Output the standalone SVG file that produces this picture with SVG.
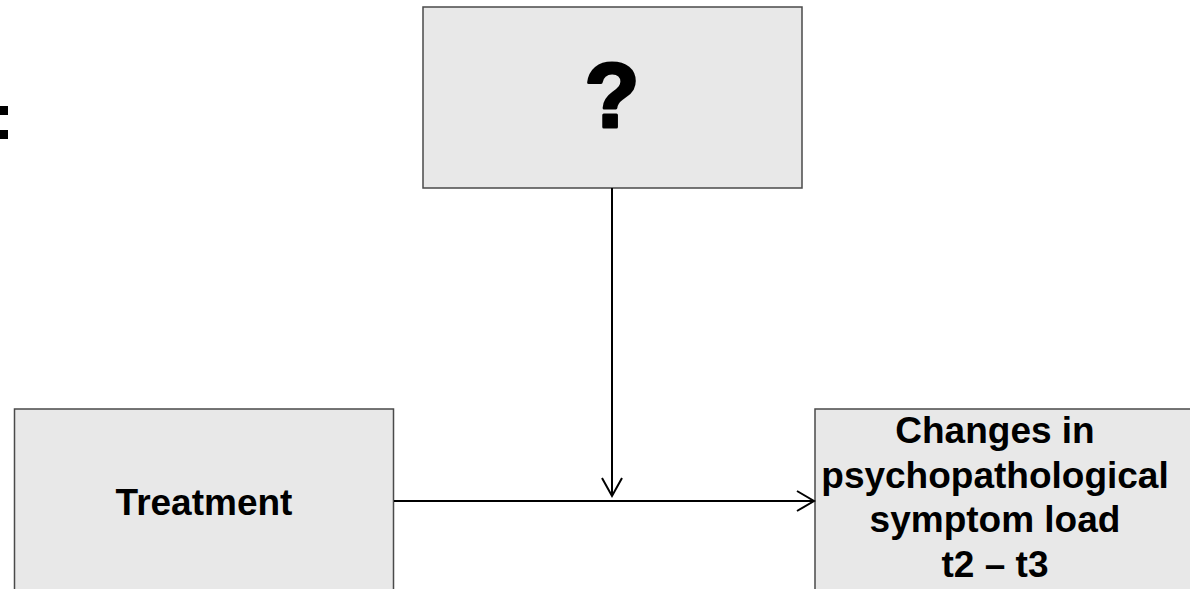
<svg xmlns="http://www.w3.org/2000/svg" width="1190" height="589" viewBox="0 0 1190 589">
<style>
.box{fill:#e8e8e8;stroke:#4a4a4a;stroke-width:1.5}
.lbl{font-family:"Liberation Sans",Arial,sans-serif;font-weight:bold;font-size:37px;fill:#000;text-anchor:middle}
.q{font-family:"Liberation Sans",Arial,sans-serif;font-weight:900;font-size:90px;fill:#000;stroke:#000;stroke-width:3;stroke-linejoin:round;text-anchor:middle}
.conn{stroke:#000;stroke-width:2;fill:none}
</style>
<rect x="0" y="0" width="1190" height="589" fill="#fff"/>
<g id="colon">
<rect x="0" y="106" width="8" height="9" fill="#000"/>
<rect x="0" y="130" width="8" height="9" fill="#000"/>
</g>
<g id="node-moderator">
<rect class="box" x="423" y="7" width="379" height="181"/>
<text class="q" x="612" y="127">?</text>
</g>
<g id="node-treatment">
<rect class="box" x="14.5" y="409" width="379" height="190"/>
<text class="lbl" x="204" y="515">Treatment</text>
</g>
<g id="node-outcome">
<rect class="box" x="815" y="409" width="390" height="190"/>
<text class="lbl" x="995" y="443">Changes in</text>
<text class="lbl" x="995" y="488">psychopathological</text>
<text class="lbl" x="995" y="532">symptom load</text>
<text class="lbl" x="995" y="577">t2 – t3</text>
</g>
<g id="connectors">
<path class="conn" d="M612 188 V496"/>
<path class="conn" d="M602 478 L612 496 L622 478"/>
<path class="conn" d="M394 501 H814"/>
<path class="conn" d="M797 491 L814 501 L797 511"/>
</g>
</svg>
